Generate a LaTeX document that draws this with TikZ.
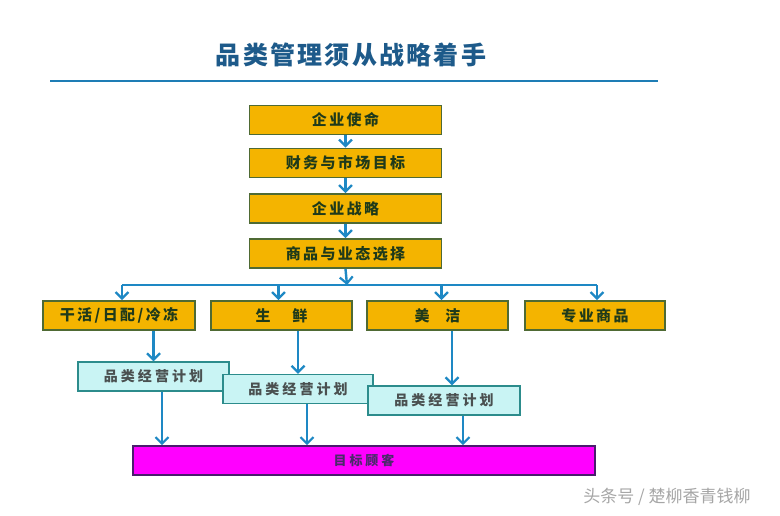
\documentclass[tikz,border=0pt]{standalone}
\usepackage{fontspec}
\usetikzlibrary{arrows.meta}
\newfontfamily\cjk{Noto Sans CJK SC}
\newfontfamily\cjkt[LetterSpace=9]{Noto Sans CJK SC}
\newfontfamily\cjkg[LetterSpace=16]{Noto Sans CJK SC}
\newfontfamily\cjkp[LetterSpace=22]{Noto Sans CJK SC}
\definecolor{gold}{HTML}{F4B400}
\definecolor{goldedge}{HTML}{4F6A34}
\definecolor{goldtext}{HTML}{1F3A1A}
\definecolor{flow}{HTML}{1E88C4}
\definecolor{rule}{HTML}{1E7DB5}
\definecolor{titlec}{HTML}{1D5A8A}
\definecolor{planfill}{HTML}{C9F4F4}
\definecolor{planedge}{HTML}{2C8C8C}
\definecolor{plantext}{HTML}{4A5050}
\definecolor{magentafill}{HTML}{FF00FF}
\definecolor{magentaedge}{HTML}{4A1C6E}
\definecolor{magentatext}{HTML}{4A2A6A}
\tikzset{
  goldbox/.style={draw=goldedge, line width=1.8pt, fill=gold, text=goldtext,
    font=\cjkg\bfseries\fontsize{15pt}{17pt}\selectfont, inner sep=0pt, minimum height=29pt},
  planbox/.style={draw=planedge, line width=1.4pt, fill=planfill, text=plantext,
    font=\cjkp\bfseries\fontsize{14pt}{16pt}\selectfont, inner sep=0pt, minimum height=29pt, minimum width=151pt},
  targetbox/.style={draw=magentaedge, line width=1.6pt, fill=magentafill, text=magentatext,
    font=\cjkp\bfseries\fontsize{13pt}{15pt}\selectfont, inner sep=0pt, minimum height=29pt, minimum width=462pt},
  arr/.style={draw=flow, line width=2.4pt, -{Straight Barb[length=6.5pt,width=13pt,line width=2.2pt]}},
  flowline/.style={draw=flow, line width=2.4pt},
}
\begin{document}
\begin{tikzpicture}[x=1pt,y=-1pt]
\useasboundingbox[fill=white] (0,0) rectangle (780,515);
% title
\node (title) at (351,55) [text=titlec, font=\cjkt\bfseries\fontsize{25pt}{28pt}\selectfont] {品类管理须从战略着手};
\coordinate (ruleL) at (50,81);
\coordinate (ruleR) at (658,81);
\draw[rule, line width=2.6pt] (ruleL) -- (ruleR);
% top chain
\node[goldbox, minimum width=192pt] (b1) at (345.5,120) {企业使命};
\node[goldbox, minimum width=192pt] (b2) at (345.5,163) {财务与市场目标};
\node[goldbox, minimum width=192pt] (b3) at (345.5,208.5) {企业战略};
\node[goldbox, minimum width=192pt] (b4) at (345.5,253.5) {商品与业态选择};
\draw[arr] (b1) -- (b2);
\draw[arr] (b2) -- (b3);
\draw[arr] (b3) -- (b4);
% categories
\node[goldbox, minimum width=152pt] (c1) at (119,315.5) {干活/日配/冷冻};
\node[goldbox, minimum width=141pt] (c2) at (281.5,315.5) {生\hspace{22pt}鲜};
\node[goldbox, minimum width=141pt] (c3) at (437.5,315.5) {美\hspace{16pt}洁};
\node[goldbox, minimum width=140pt] (c4) at (595,315.5) {专业商品};
\coordinate (j) at (347,285);
\draw[arr] (b4.south) -- (j);
\draw[flowline] ([xshift=3pt]c1.north |- j) -- ([xshift=2pt]c4.north |- j);
\draw[arr] ([xshift=3pt]c1.north |- j) -- ([xshift=3pt]c1.north);
\draw[arr] ([xshift=-3pt]c2.north |- j) -- ([xshift=-3pt]c2.north);
\draw[arr] ([xshift=4pt]c3.north |- j) -- ([xshift=4pt]c3.north);
\draw[arr] ([xshift=2pt]c4.north |- j) -- ([xshift=2pt]c4.north);
% plans
\node[planbox] (p1) at (153.5,376.5) {品类经营计划};
\node[planbox, minimum width=150pt] (p2) at (298,389) {品类经营计划};
\node[planbox, minimum width=152pt] (p3) at (444,400.5) {品类经营计划};
\draw[arr] (c1.south -| p1.north) -- (p1.north);
\draw[arr] (c2.south -| p2.north) -- (p2.north);
\draw[arr] ([xshift=8pt]c3.south -| p3.north) -- ([xshift=8pt]p3.north);
% target
\node[targetbox] (t) at (364,460.5) {目标顾客};
\draw[arr] ([xshift=8.5pt]p1.south) -- ([xshift=8.5pt]p1.south |- t.north);
\draw[arr] ([xshift=9pt]p2.south) -- ([xshift=9pt]p2.south |- t.north);
\draw[arr] ([xshift=19pt]p3.south) -- ([xshift=19pt]p3.south |- t.north);
% watermark
\node (wm) at (667,497) [text=black!35, font=\cjk\fontsize{17pt}{19pt}\selectfont] {头条号 / 楚柳香青钱柳};
\end{tikzpicture}
\end{document}
